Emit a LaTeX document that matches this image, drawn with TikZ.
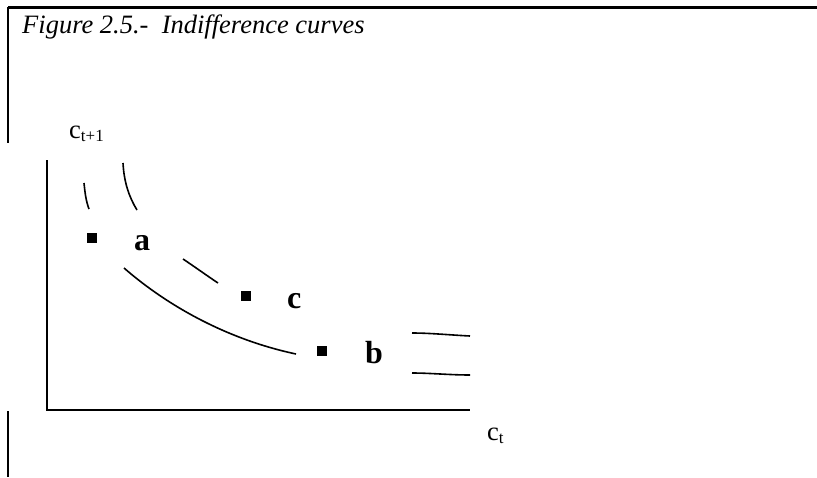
\documentclass[tikz,border=0pt]{standalone}
\usepackage{fontspec}
\setmainfont{Liberation Serif}
\begin{document}
\begin{tikzpicture}[x=1pt,y=-1pt,
  frame/.style={line width=2.5pt},
  topframe/.style={line width=3pt},
  axis/.style={line width=2pt},
  icurve/.style={line width=1.6pt},
  dot/.style={rectangle,fill=black,minimum size=9.5pt,inner sep=0pt},
  lbl/.style={font=\fontsize{32}{32}\selectfont\bfseries,anchor=base west,inner sep=0pt},
  txt/.style={font=\fontsize{26.5}{26.5}\selectfont,anchor=base west,inner sep=0pt}]
\useasboundingbox (0,0) rectangle (817,477);
% frame
\coordinate (tl) at (8,7);
\coordinate (tr) at (817,7);
\coordinate (lb) at (8,143);
\coordinate (bl1) at (8,411);
\coordinate (bl2) at (8,477);
\draw[topframe] (tl) -- (tr);
\draw[frame] (tl) -- (lb);
\draw[frame] (bl1) -- (bl2);
% title
\node[txt,font=\fontsize{26.5}{26.5}\selectfont\itshape] (title) at (22,33) {Figure 2.5.-\ \ Indifference curves};
% axes
\coordinate (ytop) at (47,160);
\coordinate (O) at (47,410);
\coordinate (xend) at (470,410);
\draw[axis] (ytop) -- (O) -- (xend);
\node[txt] (ylab) at (69,138) {c\raisebox{-3pt}{\fontsize{17}{17}\selectfont t+1}};
\node[txt] (xlab) at (487,440) {c\raisebox{-3pt}{\fontsize{17}{17}\selectfont t}};
% upper (broken) indifference curve
\draw[icurve] (123,163) .. controls (124,182) and (129,197) .. (137,210);
\draw[icurve] (183,259) .. controls (195,267) and (206,275) .. (218,283);
\draw[icurve] (412,333) .. controls (430,333) and (450,335) .. (470,336);
% lower indifference curve
\draw[icurve] (84,183) .. controls (85,193) and (86,201) .. (89,209);
\draw[icurve] (124,268) .. controls (170,308) and (230,340) .. (296,354);
\draw[icurve] (412,373) .. controls (430,373) and (450,375) .. (470,375);
% points
\node[dot] (pa) at (92,238) {};
\node[dot] (pc) at (246,296) {};
\node[dot] (pb) at (322,351) {};
\node[lbl] (la) at (134,250) {a};
\node[lbl] (lc) at (287,308) {c};
\node[lbl] (lb2) at (365,363) {b};
\end{tikzpicture}
\end{document}
